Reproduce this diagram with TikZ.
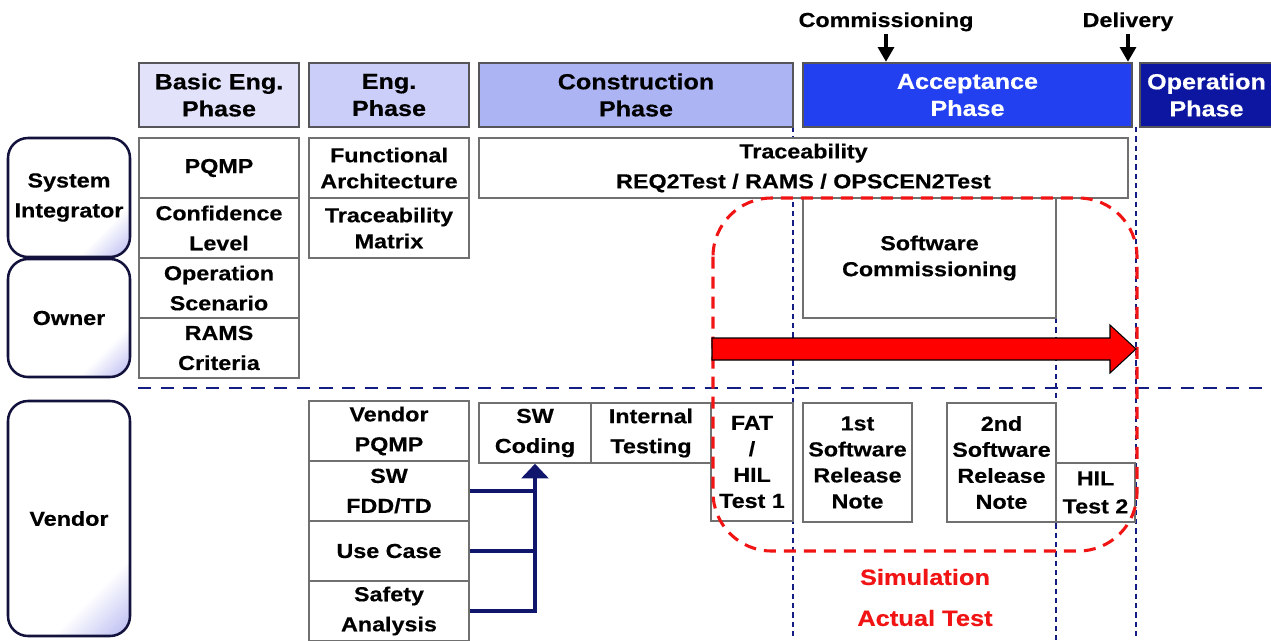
\documentclass[tikz,border=0pt]{standalone}
\usepackage{fontspec}
\setmainfont{Liberation Sans}[FakeStretch=1.15,FakeBold=0.4]
\usetikzlibrary{arrows.meta}

\definecolor{basicph}{RGB}{226,227,250}
\definecolor{engph}{RGB}{202,206,248}
\definecolor{consph}{RGB}{172,180,244}
\definecolor{accph}{RGB}{34,64,240}
\definecolor{opph}{RGB}{12,22,160}
\definecolor{cellgray}{RGB}{112,112,112}
\definecolor{headgray}{RGB}{85,85,90}
\definecolor{rolenavy}{RGB}{18,18,60}
\definecolor{rolelav}{RGB}{170,172,238}
\definecolor{navyline}{RGB}{20,30,130}
\definecolor{flownavy}{RGB}{16,22,108}
\definecolor{flowred}{RGB}{240,20,20}

\pgfdeclarehorizontalshading{rolefade}{100bp}{color(0bp)=(white); color(70bp)=(white); color(88bp)=(rolelav); color(100bp)=(rolelav)}

% one rectangular cell given by its pixel corners
\newcommand\gridbox[7][]{%
  \node[cellbox,#1,minimum width={(#5-#3)*0.75pt},minimum height={(#6-#4)*0.75pt}]
    (#2) at ({(#3+#5)/2},{(#4+#6)/2}) {#7};}

\tikzset{
  txt/.style={font=\bfseries\fontsize{15.2}{22.5}\selectfont},
  cellbox/.style={draw=cellgray, line width=1.1pt, fill=white, inner sep=0pt,
    align=center, txt},
  tight/.style={font=\bfseries\fontsize{15.2}{19.5}\selectfont},
  header/.style={draw=headgray, line width=1.9pt, font=\bfseries\fontsize{16.4}{20.3}\selectfont},
  role/.style={draw=rolenavy, line width=1.9pt, rounded corners=15pt,
    shading=rolefade, shading angle=-45},
  milestone/.style={-{Triangle[width=12pt,length=11pt]}, line width=2.3pt, black},
  flow/.style={flownavy, line width=3pt},
  phaseline/.style={navyline, line width=1.1pt, dash pattern=on 4pt off 3pt},
  partline/.style={navyline, line width=2.2pt, dash pattern=on 10pt off 7pt},
  zone/.style={flowred, line width=2.3pt, dash pattern=on 9pt off 6pt, rounded corners=44pt},
  redlabel/.style={text=flowred, font=\bfseries\fontsize{16.6}{20}\selectfont}
}

\begin{document}
\begin{tikzpicture}[x=0.75pt,y=-0.75pt]
\useasboundingbox (0,0) rectangle (1271,640);

% milestone boundaries
\draw[phaseline] (793,127) -- (793,640);
\draw[phaseline] (1056,318) -- (1056,640);
\draw[phaseline] (1136,127) -- (1136,640);

% phase headers
\gridbox[header,fill=basicph]{ph1}{139}{63}{299}{127}{Basic Eng.\\Phase}
\gridbox[header,fill=engph]{ph2}{309}{63}{469}{127}{Eng.\\Phase}
\gridbox[header,fill=consph]{ph3}{479}{63}{793}{127}{Construction\\Phase}
\gridbox[header,fill=accph,text=white]{ph4}{803}{63}{1132}{127}{Acceptance\\Phase}
\gridbox[header,fill=opph,text=white]{ph5}{1140}{63}{1273}{127}{Operation\\Phase}

% milestones
\node[txt, anchor=base, inner sep=0pt] (comm) at (886,27) {Commissioning};
\node[txt, anchor=base, inner sep=0pt] (deliv) at (1128,27) {Delivery};
\coordinate (commtop) at (886,34);
\coordinate (delivtop) at (1128,34);
\draw[milestone] (commtop) -- (commtop |- ph4.north);
\draw[milestone] (delivtop) -- (delivtop |- ph4.north);

% roles
\gridbox[role]{si}{8}{138}{130}{257}{\fontsize{15.2}{19.5}\selectfont System\\Integrator}
\gridbox[role]{own}{8}{259}{130}{377}{Owner}
\gridbox[role]{ven}{8}{401}{130}{636}{Vendor}

% basic engineering deliverables
\gridbox{pqmp}{139}{138}{299}{198}{PQMP}
\gridbox{conf}{139}{198}{299}{258}{Confidence\\Level}
\gridbox{opsc}{139}{258}{299}{318}{Operation\\Scenario}
\gridbox{rams}{139}{318}{299}{378}{RAMS\\Criteria}

% engineering deliverables
\gridbox[tight]{farch}{309}{138}{469}{198}{Functional\\Architecture}
\gridbox[tight]{tmat}{309}{198}{469}{258}{Traceability\\Matrix}

\gridbox{trace}{479}{138}{1128}{198}{Traceability\\REQ2Test / RAMS / OPSCEN2Test}
\gridbox[tight]{swcomm}{803}{198}{1056}{318}{Software\\Commissioning}

% vendor activities
\gridbox{vpqmp}{309}{401}{469}{461}{Vendor\\PQMP}
\gridbox{fdd}{309}{461}{469}{521}{SW\\FDD/TD}
\gridbox{usec}{309}{521}{469}{581}{Use Case}
\gridbox{safety}{309}{581}{469}{641}{Safety\\Analysis}
\gridbox{coding}{479}{403}{591}{463}{SW\\Coding}
\gridbox{itest}{591}{403}{711}{463}{Internal\\Testing}
\gridbox[tight]{fat}{711}{403}{793}{521}{FAT\\/\\HIL\\Test 1}
\gridbox[tight]{rel1}{803}{403}{912}{522}{1st\\Software\\Release\\Note}
\gridbox[tight]{rel2}{947}{403}{1056}{522}{2nd\\Software\\Release\\Note}
\gridbox[font=\bfseries\fontsize{15.2}{21}\selectfont]{hil2}{1056}{463}{1135}{522}{HIL\\Test 2}

% owner / vendor partition
\draw[partline] (138,388) -- (1275,388);

% simulation zone
\draw[zone] (713,198) rectangle (1137,551);
\draw[fill=red, draw=black, line width=0.8pt]
  (712,338) -- (1110,338) -- (1110,325) -- (1136,349) -- (1110,373)
  -- (1110,360) -- (712,360) -- cycle;

\node[redlabel] (sim) at (925,577) {Simulation};
\node[redlabel] (act) at (925,618) {Actual Test};

% inputs to coding
\draw[flow] (fdd.east) -- (fdd.east -| coding.south);
\draw[flow] (usec.east) -- (usec.east -| coding.south);
\draw[flow, -{Triangle[width=20pt,length=11pt]}] (safety.east) -| (coding.south);
\end{tikzpicture}
\end{document}
